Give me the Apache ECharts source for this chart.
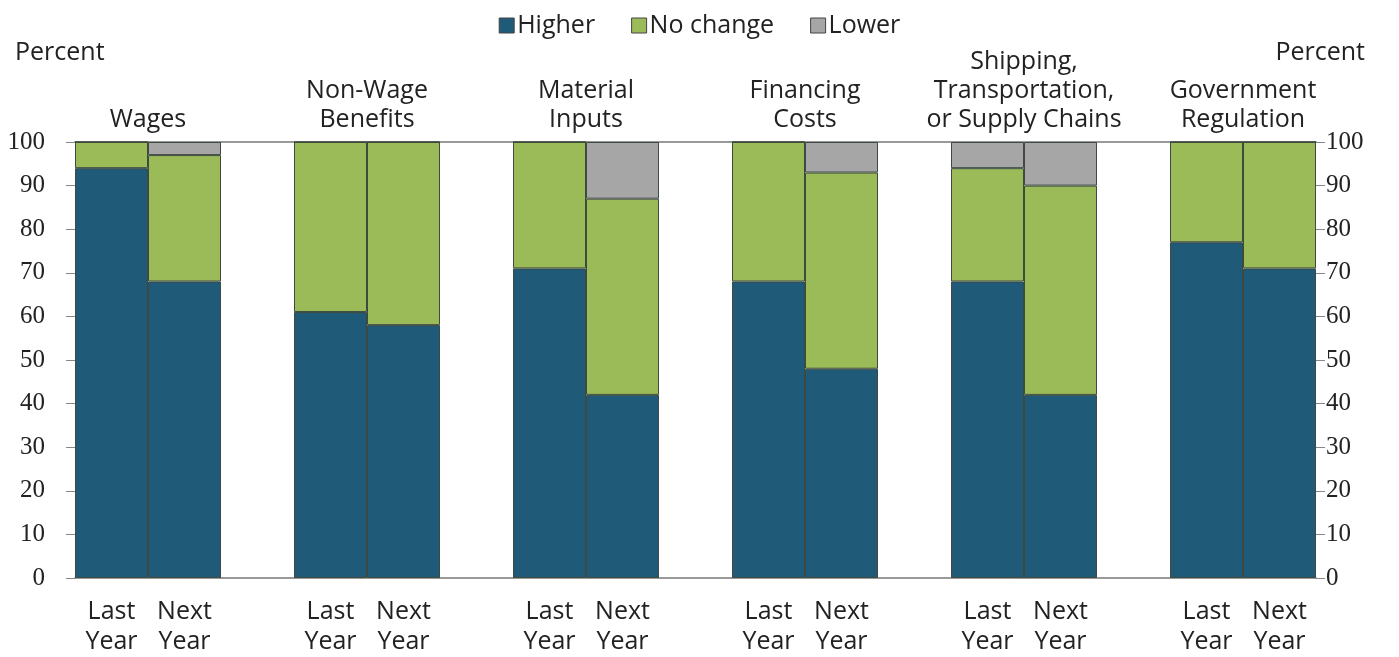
<!DOCTYPE html>
<html>
<head>
<meta charset="utf-8">
<script src="https://cdn.jsdelivr.net/npm/echarts@6/dist/echarts.min.js"></script>
<style>html,body{margin:0;padding:0;background:#fff}#c{width:1399px;height:657px}</style>
</head>
<body>
<div id="c"></div>
<script>
var groups = ['Wages', 'Non-Wage\nBenefits', 'Material\nInputs', 'Financing\nCosts', 'Shipping,\nTransportation,\nor Supply Chains', 'Government\nRegulation'];
var periods = ['Last\nYear', 'Next\nYear'];
// [Last Year, Next Year] per group
var higher   = [[94, 68], [61, 58], [71, 42], [68, 48], [68, 42], [77, 71]];
var noChange = [[6, 29], [39, 42], [29, 45], [32, 45], [26, 48], [23, 29]];
var lower    = [[0, 3], [0, 0], [0, 13], [0, 7], [6, 10], [0, 0]];

var FONT = 'Open Sans';
var NUMFONT = 'Liberation Sans Narrow';
var cats = [], dH = [], dN = [], dL = [];
groups.forEach(function (g, i) {
  if (i > 0) { cats.push(''); dH.push(null); dN.push(null); dL.push(null); }
  for (var k = 0; k < 2; k++) {
    cats.push(periods[k]);
    dH.push(higher[i][k]); dN.push(noChange[i][k]); dL.push(lower[i][k]);
  }
});
var nSlots = cats.length;
var groupAt = {};
groups.forEach(function (g, i) { groupAt[1 + 3 * i] = g; });

var border = { borderColor: '#3d4a3f', borderWidth: 1 };
function bar(name, data, color) {
  return {
    name: name, type: 'bar', stack: 's', data: data, barWidth: '100%',
    itemStyle: Object.assign({ color: color }, border),
    emphasis: { disabled: true }
  };
}
var yAxisBase = {
  type: 'value', min: 0, max: 100, interval: 10,
  axisLine: { show: false },
  axisTick: { show: true, length: 9, lineStyle: { color: '#888', width: 1 } },
  splitLine: { show: false },
  axisLabel: { fontFamily: NUMFONT, fontSize: 25, color: '#222', margin: 30 },
  nameGap: 77
};
var chart = echarts.init(document.getElementById('c'));
chart.setOption({
  animation: false,
  backgroundColor: '#fff',
  legend: {
    top: 8, left: 'center', itemWidth: 15, itemHeight: 15, itemGap: 36,
    textStyle: { fontFamily: FONT, fontSize: 25, color: '#222', padding: [0, 0, 0, -2] },
    icon: 'rect',
    data: [
      { name: 'Higher', itemStyle: { borderColor: '#444', borderWidth: 1 } },
      { name: 'No change', itemStyle: { borderColor: '#444', borderWidth: 1 } },
      { name: 'Lower', itemStyle: { borderColor: '#444', borderWidth: 1 } }
    ]
  },
  grid: { left: 75, right: 83, top: 142, bottom: 79 },
  xAxis: [{
    type: 'category', data: cats, position: 'bottom',
    axisLine: { show: true, lineStyle: { color: '#999', width: 2 } },
    axisTick: { show: false },
    axisLabel: { interval: 0, fontFamily: FONT, fontSize: 25, color: '#222', lineHeight: 30, margin: 19 }
  }, {
    type: 'value', position: 'top', min: 0, max: nSlots, interval: 1,
    axisLine: { show: true, onZero: false, lineStyle: { color: '#999', width: 2 } },
    axisTick: { show: false }, splitLine: { show: false },
    axisLabel: {
      fontFamily: FONT, fontSize: 25, color: '#222', lineHeight: 29, margin: 8,
      showMinLabel: true, showMaxLabel: true,
      formatter: function (v) { return groupAt[v] || ''; }
    }
  }],
  yAxis: [
    Object.assign({}, yAxisBase, { position: 'left', name: 'Percent', nameLocation: 'end',
      nameTextStyle: { fontFamily: FONT, fontSize: 25, color: '#222', align: 'left', padding: [0, 0, 0, -60] } }),
    Object.assign({}, yAxisBase, { position: 'right', name: 'Percent', nameLocation: 'end',
      axisLabel: { fontFamily: NUMFONT, fontSize: 25, color: '#222', margin: 10 },
      nameTextStyle: { fontFamily: FONT, fontSize: 25, color: '#222', align: 'right', padding: [0, -49, 0, 0] } })
  ],
  series: [
    bar('Higher', dH, '#1f5b78'),
    bar('No change', dN, '#9bbb59'),
    bar('Lower', dL, '#a6a6a6')
  ]
});
</script>
</body>
</html>
